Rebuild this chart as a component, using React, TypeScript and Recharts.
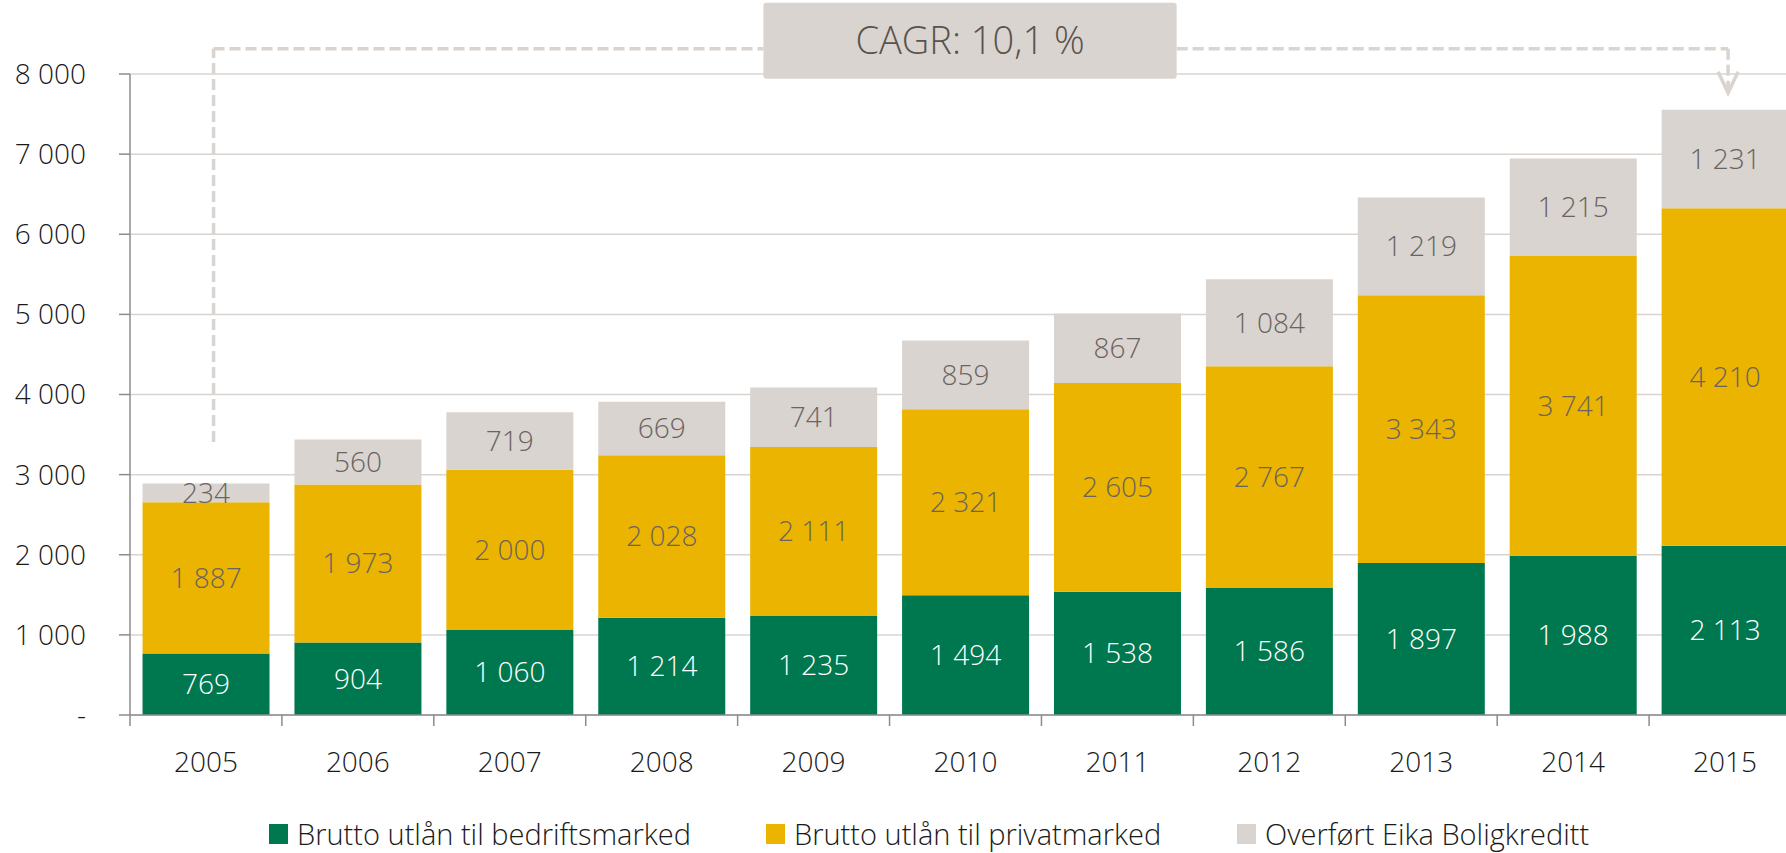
import React from "react";
import {
  BarChart,
  Bar,
  XAxis,
  YAxis,
  CartesianGrid,
  LabelList,
  Legend,
  ReferenceLine,
  ReferenceArea,
} from "recharts";

const years = ["2005", "2006", "2007", "2008", "2009", "2010", "2011", "2012", "2013", "2014", "2015"];
const business = [769, 904, 1060, 1214, 1235, 1494, 1538, 1586, 1897, 1988, 2113];
const retail = [1887, 1973, 2000, 2028, 2111, 2321, 2605, 2767, 3343, 3741, 4210];
const transferred = [234, 560, 719, 669, 741, 859, 867, 1084, 1219, 1215, 1231];
const yTicks = [0, 1000, 2000, 3000, 4000, 5000, 6000, 7000, 8000];

const seriesNames = [
  "Brutto utlån til bedriftsmarked",
  "Brutto utlån til privatmarked",
  "Overført Eika Boligkreditt",
];
const cagrText = "CAGR: 10,1 %";

const GREEN = "#00784f";
const YELLOW = "#ebb400";
const GREY = "#d9d4d0";
const LABEL_GREY = "#6b635e";
const TEXT = "#1a1a1a";
const AXIS = "#8c8c8c";

const CHART_W = 1810;
const MARGIN = { top: 74, right: 9, bottom: 0, left: 0 };
const Y_W = 130;
const BAND = (CHART_W - MARGIN.left - MARGIN.right - Y_W) / years.length;

const data = years.map((year, i) => ({
  year,
  pos: i + 0.5,
  business: business[i],
  retail: retail[i],
  transferred: transferred[i],
}));

const fmt = (v: number) =>
  v === 0 ? "-" : String(v).replace(/\B(?=(\d{3})+(?!\d))/g, " ");

// connector path, in (boundary index, value) units
const leftX = 0.55;
const rightX = 10.52;
const lineY = 8314;
const startY = 3408;
const arrowTipY = 7765;
const boxX = [4.17, 6.89];
const boxY = [7940, 8889];

const dashProps = { stroke: GREY, strokeWidth: 3.5, strokeDasharray: "11 5" };

function ArrowShape(props: any) {
  const { x1, y1, x2, y2 } = props;
  return (
    <g>
      <line x1={x1} y1={y1} x2={x2} y2={y2 - 4} {...dashProps} />
      <polyline
        points={`${x2 - 10},${y2 - 21} ${x2},${y2} ${x2 + 10},${y2 - 21}`}
        fill="none"
        stroke={GREY}
        strokeWidth={3.5}
        strokeLinejoin="miter"
      />
    </g>
  );
}

// year label plus the tick mark on the left boundary of its category
function YearTick(props: any) {
  const { x, y, payload } = props;
  const axisY = y - 37;
  return (
    <g>
      <line x1={x - BAND / 2} y1={axisY} x2={x - BAND / 2} y2={axisY + 11} stroke={AXIS} strokeWidth={1.5} />
      <text x={x} y={y} dy="0.71em" textAnchor="middle" fontSize={28} fill={TEXT}>
        {payload.value}
      </text>
    </g>
  );
}

function LegendContent(props: any) {
  const { payload } = props;
  const widths = [497, 471, 400];
  return (
    <div
      style={{
        height: 58,
        boxSizing: "border-box",
        paddingTop: 23,
        paddingLeft: 269,
        display: "flex",
        alignItems: "flex-start",
      }}
    >
      {(payload || []).map((entry: any, i: number) => (
        <div key={entry.value} style={{ width: widths[i], height: 32, display: "flex", alignItems: "center" }}>
          <span style={{ width: 19, height: 20, background: entry.color, display: "inline-block", marginRight: 9 }} />
          <span style={{ fontSize: 29, lineHeight: "32px", color: TEXT, whiteSpace: "nowrap" }}>{entry.value}</span>
        </div>
      ))}
    </div>
  );
}

export default function App() {
  return (
    <div
      style={{
        position: "absolute",
        left: 0,
        top: 0,
        width: 1786,
        height: 853,
        overflow: "hidden",
        background: "#fff",
        fontFamily: "'Open Sans', 'Noto Sans', sans-serif",
        fontWeight: 300,
      }}
    >
      <BarChart width={CHART_W} height={853} data={data} margin={MARGIN} barCategoryGap="8.25%">
        <CartesianGrid vertical={false} stroke={GREY} strokeWidth={1.5} />
        <XAxis
          xAxisId="num"
          dataKey="pos"
          type="number"
          domain={[0, 11]}
          allowDataOverflow
          hide
        />
        <XAxis
          xAxisId="cat"
          dataKey="year"
          height={80}
          interval={0}
          axisLine={{ stroke: AXIS, strokeWidth: 1.5 }}
          tickLine={false}
          tickSize={0}
          tickMargin={37}
          tick={YearTick}
        />
        <YAxis
          width={Y_W}
          domain={[0, 8000]}
          ticks={yTicks}
          tickFormatter={fmt}
          axisLine={{ stroke: AXIS, strokeWidth: 1.5 }}
          tickLine={{ stroke: AXIS, strokeWidth: 1.5 }}
          tickSize={11}
          tickMargin={33}
          tick={{ fontSize: 28, fill: TEXT }}
        />
        <Legend verticalAlign="bottom" content={LegendContent} />
        <Bar xAxisId="cat" dataKey="business" name={seriesNames[0]} stackId="a" fill={GREEN} isAnimationActive={false}>
          <LabelList dataKey="business" position="center" formatter={fmt} fill="#ffffff" fontSize={28} />
        </Bar>
        <Bar xAxisId="cat" dataKey="retail" name={seriesNames[1]} stackId="a" fill={YELLOW} isAnimationActive={false}>
          <LabelList dataKey="retail" position="center" formatter={fmt} fill={LABEL_GREY} fontSize={28} />
        </Bar>
        <Bar xAxisId="cat" dataKey="transferred" name={seriesNames[2]} stackId="a" fill={GREY} isAnimationActive={false}>
          <LabelList dataKey="transferred" position="center" formatter={fmt} fill={LABEL_GREY} fontSize={28} />
        </Bar>
        <ReferenceLine
          xAxisId="num"
          ifOverflow="visible"
          segment={[{ x: leftX, y: startY }, { x: leftX, y: lineY }]}
          {...dashProps}
        />
        <ReferenceLine
          xAxisId="num"
          ifOverflow="visible"
          segment={[{ x: leftX, y: lineY }, { x: boxX[0], y: lineY }]}
          {...dashProps}
        />
        <ReferenceLine
          xAxisId="num"
          ifOverflow="visible"
          segment={[{ x: boxX[1], y: lineY }, { x: rightX, y: lineY }]}
          {...dashProps}
        />
        <ReferenceLine
          xAxisId="num"
          ifOverflow="visible"
          segment={[{ x: rightX, y: lineY }, { x: rightX, y: arrowTipY }]}
          shape={ArrowShape}
        />
        <ReferenceArea
          xAxisId="num"
          ifOverflow="visible"
          x1={boxX[0]}
          x2={boxX[1]}
          y1={boxY[0]}
          y2={boxY[1]}
          fill={GREY}
          fillOpacity={1}
          radius={3}
          label={{ value: cagrText, position: "center", fontSize: 38, fill: "#5a524c" }}
        />
      </BarChart>
    </div>
  );
}
